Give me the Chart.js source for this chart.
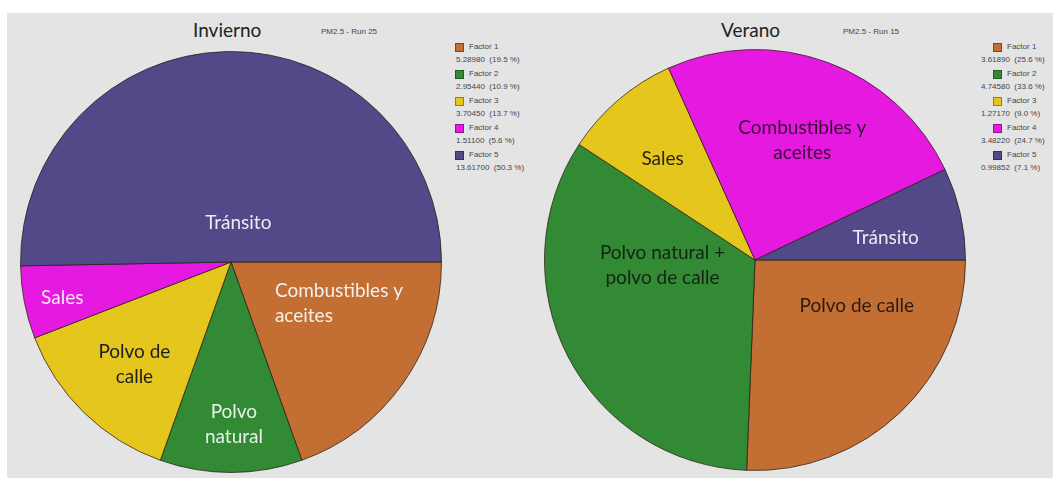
<!DOCTYPE html>
<html>
<head>
<meta charset="utf-8">
<script src="https://cdn.jsdelivr.net/npm/chart.js@4.4.1/dist/chart.umd.min.js"></script>
<style>
  body { margin: 0; background: #fff; width: 1053px; height: 478px; overflow: hidden; }
  #panel { position: absolute; left: 7px; top: 13px; width: 1046px; height: 465px; background: #e4e4e4; }
  .box { position: absolute; width: 422px; height: 422px; }
  .title { position: absolute; font-family: Lato, sans-serif; font-size: 19px; color: #222; line-height: 1; white-space: nowrap; }
  .sub { position: absolute; font-family: "Liberation Sans", Arial, sans-serif; font-size: 8px; color: #444; white-space: nowrap; }
  .legend { position: absolute; font-family: "Liberation Sans", Arial, sans-serif; font-size: 8px; color: #444; }
  .legend div { position: absolute; white-space: nowrap; }
  .sw { width: 7px; height: 7px; border: 1px solid rgba(0,0,0,0.35); }
</style>
</head>
<body>
<div id="panel"></div>

<div class="title" style="left:193px; top:20px;">Invierno</div>
<div class="sub" style="left:321px; top:27px;">PM2.5 - Run 25</div>
<div class="title" style="left:721px; top:20px;">Verano</div>
<div class="sub" style="left:843px; top:27px;">PM2.5 - Run 15</div>

<div class="box" style="left:20px; top:51px;"><canvas id="winter"></canvas></div>
<div class="box" style="left:544px; top:49px;"><canvas id="summer"></canvas></div>

<div class="legend" id="legWinter" style="left:455px; top:43px;"></div>
<div class="legend" id="legSummer" style="left:993px; top:43px;"></div>

<script>
const factors = ['Factor 1', 'Factor 2', 'Factor 3', 'Factor 4', 'Factor 5'];
const colors = ['#c36e32', '#338a35', '#e5c61c', '#e619e0', '#524a88'];

const winterValues = [5.28980, 2.95440, 3.70450, 1.51100, 13.61700];
const winterPct = ['19.5', '10.9', '13.7', '5.6', '50.3'];
const winterNames = [['Combustibles y', 'aceites'], ['Polvo', 'natural'], ['Polvo de', 'calle'], ['Sales'], ['Tránsito']];

const summerValues = [3.61890, 4.74580, 1.27170, 3.48220, 0.99852];
const summerPct = ['25.6', '33.6', '9.0', '24.7', '7.1'];
const summerNames = [['Polvo de calle'], ['Polvo natural +', 'polvo de calle'], ['Sales'], ['Combustibles y', 'aceites'], ['Tránsito']];

// label placement: fraction of radius, angle shift from slice middle (deg), text colour, align
const winterPlace = [
  { f: 0.55, da: -14, c: '#f4f0ec', align: 'left' },
  { f: 0.77, da: -1, c: '#e8f0e8' },
  { f: 0.67, da: -1, c: '#1e1e1e' },
  { f: 0.82, da: -1, c: '#f6e6f6' },
  { f: 0.19, da: 11, c: '#ecebf4' }
];
const summerPlace = [
  { f: 0.53, da: -22, c: '#2a1a10' },
  { f: 0.44, da: 24, c: '#142414' },
  { f: 0.65, da: -2, c: '#2a2410' },
  { f: 0.61, da: 1.5, c: '#3a0c38' },
  { f: 0.63, da: 3, c: '#ecebf4' }
];

const sliceLabels = {
  id: 'sliceLabels',
  afterDatasetsDraw(chart, args, opts) {
    const ctx = chart.ctx;
    const arcs = chart.getDatasetMeta(0).data;
    ctx.save();
    ctx.font = '19px Lato, sans-serif';
    ctx.textBaseline = 'middle';
    arcs.forEach((arc, i) => {
      const p = opts.place[i];
      const lines = opts.names[i];
      const mid = (arc.startAngle + arc.endAngle) / 2 + p.da * Math.PI / 180;
      const r = arc.outerRadius * p.f;
      const x = arc.x + Math.cos(mid) * r;
      const y = arc.y + Math.sin(mid) * r;
      const lh = 25;
      const w = Math.max(...lines.map(l => ctx.measureText(l).width));
      ctx.fillStyle = p.c;
      lines.forEach((l, k) => {
        const ly = y + (k - (lines.length - 1) / 2) * lh;
        if (p.align === 'left') {
          ctx.textAlign = 'left';
          ctx.fillText(l, x - w / 2, ly);
        } else {
          ctx.textAlign = 'center';
          ctx.fillText(l, x, ly);
        }
      });
    });
    ctx.restore();
  }
};

function makePie(id, values, names, place) {
  new Chart(document.getElementById(id), {
    type: 'pie',
    data: {
      labels: factors,
      datasets: [{
        data: values,
        backgroundColor: colors,
        borderColor: 'rgba(40,30,20,0.75)',
        borderWidth: 1
      }]
    },
    options: {
      responsive: true,
      maintainAspectRatio: false,
      animation: false,
      rotation: 90,
      layout: { padding: 0 },
      plugins: {
        legend: { display: false },
        tooltip: { enabled: false },
        sliceLabels: { names, place }
      }
    },
    plugins: [sliceLabels]
  });
}

function makeLegend(id, values, pct, valueShift) {
  const el = document.getElementById(id);
  values.forEach((v, i) => {
    const y = i * 27;
    const sw = document.createElement('div');
    sw.className = 'sw';
    sw.style.left = '0px';
    sw.style.top = y + 'px';
    sw.style.background = colors[i];
    const name = document.createElement('div');
    name.textContent = factors[i];
    name.style.left = '14px';
    name.style.top = (y - 1) + 'px';
    const val = document.createElement('div');
    val.textContent = v.toFixed(5) + '  (' + pct[i] + ' %)';
    val.style.whiteSpace = 'pre';
    val.style.left = valueShift + 'px';
    val.style.top = (y + 12) + 'px';
    el.appendChild(sw);
    el.appendChild(name);
    el.appendChild(val);
  });
}

makePie('winter', winterValues, winterNames, winterPlace);
makePie('summer', summerValues, summerNames, summerPlace);
makeLegend('legWinter', winterValues, winterPct, 1);
makeLegend('legSummer', summerValues, summerPct, -12);
</script>
</body>
</html>
